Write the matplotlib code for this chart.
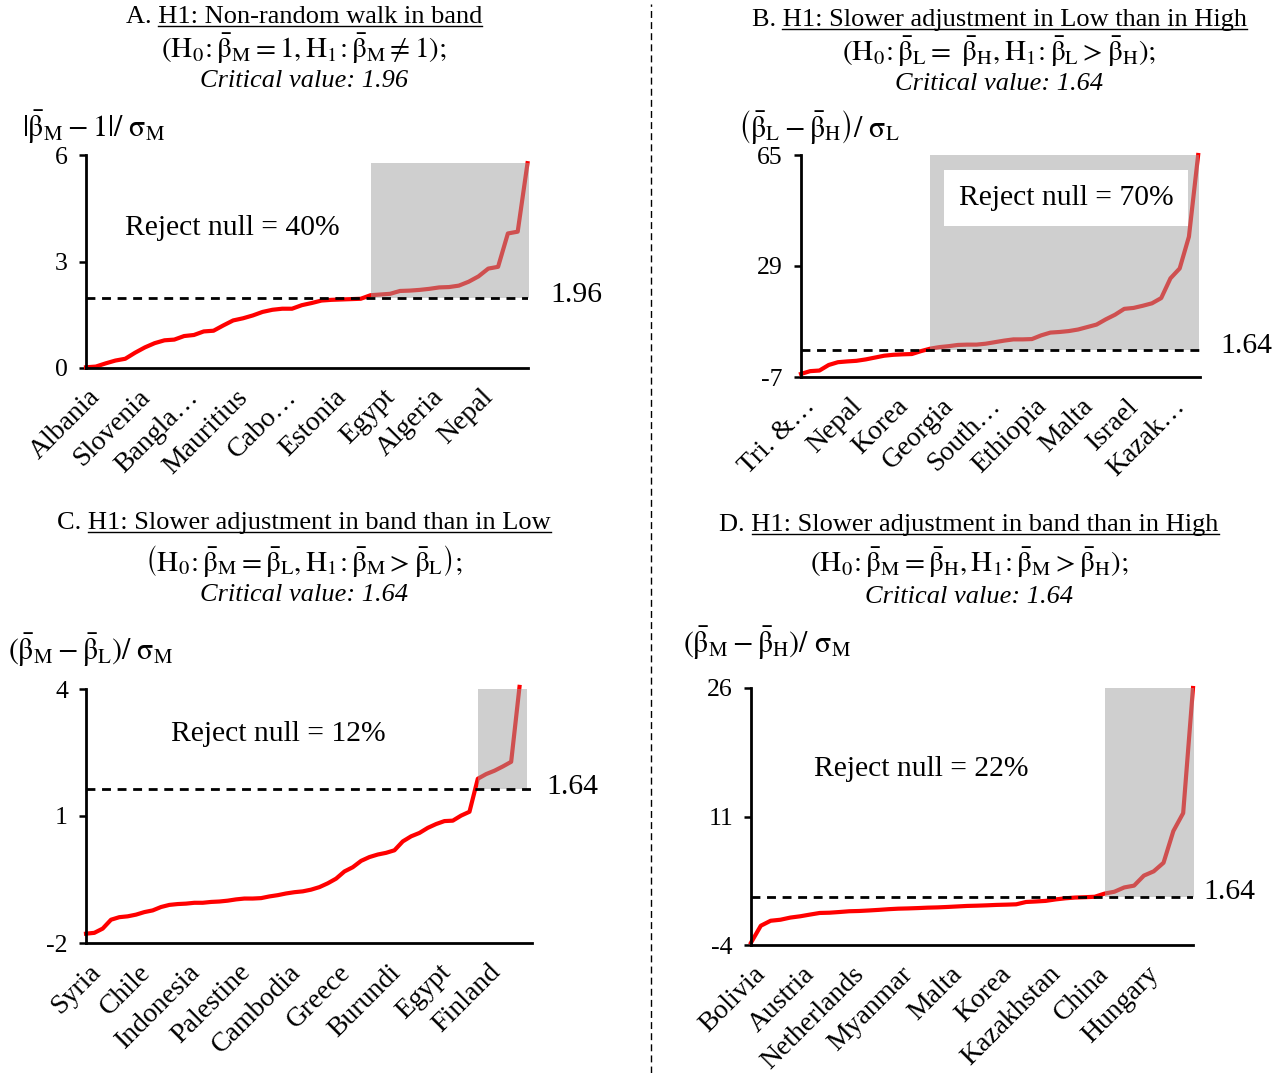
import matplotlib
matplotlib.use("Agg")
import matplotlib.pyplot as plt
from matplotlib.lines import Line2D
import matplotlib.transforms as mtransforms
from matplotlib.font_manager import FontProperties

plt.rcParams['font.family'] = ['Liberation Serif', 'DejaVu Serif']
plt.rcParams['mathtext.fontset'] = 'stix'

W, H = 1281, 1073

# ---------------- data ----------------
a_values = [0.02, 0.04, 0.13, 0.21, 0.26, 0.43, 0.58, 0.70, 0.78, 0.80,
            0.90, 0.93, 1.03, 1.05, 1.20, 1.34, 1.40, 1.48, 1.58, 1.64,
            1.67, 1.67, 1.77, 1.83, 1.90, 1.92, 1.93, 1.94, 1.95, 2.05,
            2.07, 2.09, 2.17, 2.18, 2.20, 2.23, 2.27, 2.28, 2.32, 2.43,
            2.58, 2.80, 2.85, 3.79, 3.84, 5.77]
a_labels = ["Albania", "Slovenia", "Bangla…", "Mauritius", "Cabo…",
            "Estonia", "Egypt", "Algeria", "Nepal"]
a_crit = 1.96
a_yticks = [0, 3, 6]

b_values = [-6.0, -5.1, -4.9, -3.1, -2.2, -1.95, -1.75, -1.3, -0.7, -0.1,
            0.2, 0.35, 0.45, 1.4, 2.2, 2.7, 3.0, 3.4, 3.5, 3.5,
            3.8, 4.3, 4.8, 5.2, 5.2, 5.3, 6.5, 7.4, 7.6, 7.9,
            8.4, 9.2, 10.0, 11.7, 13.2, 15.1, 15.4, 16.1, 16.9, 18.6,
            25.0, 28.2, 38.5, 65.0]
b_labels = ["Tri. &…", "Nepal", "Korea", "Georgia", "South…",
            "Ethiopia", "Malta", "Israel", "Kazak…"]
b_crit = 1.64
b_yticks = [-7, 29, 65]

c_values = [-1.78, -1.76, -1.66, -1.45, -1.39, -1.37, -1.33, -1.27, -1.23, -1.15,
            -1.10, -1.08, -1.07, -1.05, -1.05, -1.03, -1.02, -1.00, -0.97, -0.95,
            -0.95, -0.94, -0.90, -0.87, -0.83, -0.80, -0.78, -0.74, -0.68, -0.59,
            -0.48, -0.31, -0.21, -0.06, 0.03, 0.09, 0.13, 0.19, 0.40, 0.52,
            0.60, 0.72, 0.81, 0.88, 0.89, 1.01, 1.10, 1.88, 1.99, 2.07,
            2.17, 2.28, 4.05]
c_labels = ["Syria", "Chile", "Indonesia", "Palestine", "Cambodia",
            "Greece", "Burundi", "Egypt", "Finland"]
c_crit = 1.64
c_yticks = [-2, 1, 4]

d_values = [-3.73, -1.75, -1.17, -1.05, -0.80, -0.65, -0.45, -0.26, -0.23, -0.15,
            -0.06, -0.03, 0.03, 0.10, 0.18, 0.24, 0.27, 0.31, 0.36, 0.39,
            0.44, 0.50, 0.56, 0.59, 0.63, 0.68, 0.71, 0.75, 1.02, 1.08,
            1.15, 1.32, 1.45, 1.54, 1.58, 1.63, 2.00, 2.22, 2.72, 2.93,
            4.10, 4.60, 5.60, 9.30, 11.40, 26.0]
d_labels = ["Bolivia", "Austria", "Netherlands", "Myanmar", "Malta",
            "Korea", "Kazakhstan", "China", "Hungary"]
d_crit = 1.64
d_yticks = [-4, 11, 26]

reject_texts = ["Reject null = 40%", "Reject null = 70%",
                "Reject null = 12%", "Reject null = 22%"]

titles = [("A. ", "H1: Non-random walk in band"),
          ("B. ", "H1: Slower adjustment in Low than in High"),
          ("C. ", "H1: Slower adjustment in band than in Low"),
          ("D. ", "H1: Slower adjustment in band than in High")]
B = r'\bar{\mathrm{\beta}}'
hyps = [r'$(\mathrm{H_0}\!:' + B + r'_\mathrm{M}=1,\mathrm{H_1}\!:' + B + r'_\mathrm{M}\neq 1);$',
        r'$(\mathrm{H_0}\!:' + B + r'_\mathrm{L}=\ ' + B + r'_\mathrm{H},\mathrm{H_1}\!:' + B + r'_\mathrm{L}>' + B + r'_\mathrm{H});$',
        r'$\left(\mathrm{H_0}\!:' + B + r'_\mathrm{M}=' + B + r'_\mathrm{L},\mathrm{H_1}\!:' + B + r'_\mathrm{M}>' + B + r'_\mathrm{L}\right);$',
        r'$(\mathrm{H_0}\!:' + B + r'_\mathrm{M}=' + B + r'_\mathrm{H},\mathrm{H_1}\!:' + B + r'_\mathrm{M}>' + B + r'_\mathrm{H});$']
crit_texts = ["Critical value: 1.96", "Critical value: 1.64",
              "Critical value: 1.64", "Critical value: 1.64"]
ylabels = [r'$|' + B + r'_\mathrm{M}-1|/\ \mathrm{\sigma}_\mathrm{M}$',
           r'$\left(' + B + r'_\mathrm{L}-' + B + r'_\mathrm{H}\right)/\ \mathrm{\sigma}_\mathrm{L}$',
           r'$(' + B + r'_\mathrm{M}-' + B + r'_\mathrm{L})/\ \mathrm{\sigma}_\mathrm{M}$',
           r'$(' + B + r'_\mathrm{M}-' + B + r'_\mathrm{H})/\ \mathrm{\sigma}_\mathrm{M}$']

# ---------------- layout (pixels) ----------------
panels = [
    dict(vals=a_values, labels=a_labels, step=5, crit=a_crit, yt=a_yticks,
         box=(86, 528, 155, 368), xr=45.05, shade_r=45.3,
         tx=304, ty=(17, 49, 81), yl=(22, 127),
         rj=(232, 228), cl=(550, 295), rj_box=False),
    dict(vals=b_values, labels=b_labels, step=5, crit=b_crit, yt=b_yticks,
         box=(801, 1200, 155, 377), xr=43.2, shade_r=43.1,
         tx=999, ty=(20, 52, 84), yl=(738, 127),
         rj=(1066, 198), cl=(1220, 346), rj_box=True),
    dict(vals=c_values, labels=c_labels, step=6, crit=c_crit, yt=c_yticks,
         box=(86, 532, 689, 943), xr=53.5, shade_r=52.9,
         tx=304, ty=(523, 561, 595), yl=(8, 650),
         rj=(278, 734), cl=(546, 787), rj_box=False),
    dict(vals=d_values, labels=d_labels, step=5, crit=d_crit, yt=d_yticks,
         box=(751, 1193, 688, 945), xr=45.0, shade_r=45.3,
         tx=969, ty=(525, 563, 597), yl=(683, 643),
         rj=(921, 769), cl=(1203, 892), rj_box=False),
]

fig = plt.figure(figsize=(W / 100, H / 100), dpi=100)


def fx(x):
    return x / W


def fy(y):
    return 1 - y / H


title_objs = []
for k, p in enumerate(panels):
    l, r, t, b = p['box']
    ax = fig.add_axes([l / W, 1 - b / H, (r - l) / W, (b - t) / H])
    vals = p['vals']
    n = len(vals)
    xs = list(range(n))
    ymin, ymax = p['yt'][0], p['yt'][-1]
    ax.set_xlim(0, p['xr'])
    ax.set_ylim(ymin, ymax)
    ax.plot(xs, vals, color='#ff0000', lw=3.0, zorder=2, clip_on=False,
            solid_joinstyle='round')
    first = next(i for i, v in enumerate(vals) if v > p['crit'])
    ax.fill_between([first, p['shade_r']], p['crit'], max(vals),
                    color='#a0a0a0', alpha=0.5, lw=0, zorder=3)
    ax.axhline(p['crit'], color='black', lw=2.0, ls=(0, (3.2, 2.4)), zorder=4)
    for s in ['top', 'right']:
        ax.spines[s].set_visible(False)
    for s in ['left', 'bottom']:
        ax.spines[s].set_linewidth(2.0)
        ax.spines[s].set_zorder(5)
    ax.set_yticks(p['yt'])
    ax.set_yticklabels([str(v) for v in p['yt']], fontsize=18.5)
    ax.tick_params(axis='y', direction='out', length=5, width=1.8, pad=8)
    ticks = list(range(0, n, p['step']))[:len(p['labels'])]
    ax.set_xticks(ticks)
    ax.set_xticklabels(p['labels'], rotation=45, ha='right',
                       rotation_mode='anchor', fontsize=20)
    ax.tick_params(axis='x', length=0, pad=12)
    off = mtransforms.ScaledTranslation(2 / 100, 0, fig.dpi_scale_trans)
    for lab in ax.get_xticklabels():
        lab.set_transform(lab.get_transform() + off)

    # reject text
    kw = dict(ha='center', va='center', fontsize=21.3, zorder=6)
    if p['rj_box']:
        kw['bbox'] = dict(boxstyle='square,pad=0.5', fc='white', ec='none')
    fig.text(fx(p['rj'][0]), fy(p['rj'][1]), reject_texts[k], **kw)
    # critical value label
    fig.text(fx(p['cl'][0]), fy(p['cl'][1]), f"{p['crit']:.2f}", ha='left',
             va='center', fontsize=21.3)

    # titles
    prefix, body = titles[k]
    tt = fig.text(fx(p['tx']), fy(p['ty'][0]), prefix + body, ha='center',
                  va='center', fontsize=19)
    title_objs.append((tt, body))
    fig.text(fx(p['tx']), fy(p['ty'][1]), hyps[k], ha='center', va='center',
             fontsize=21)
    fig.text(fx(p['tx']), fy(p['ty'][2]), crit_texts[k], ha='center',
             va='center', fontsize=19, style='italic')
    fig.text(fx(p['yl'][0]), fy(p['yl'][1]), ylabels[k], ha='left',
             va='center', fontsize=21.5)

# vertical dashed separator
fig.add_artist(Line2D([fx(651), fx(651)], [0, fy(4)], transform=fig.transFigure,
                      color='black', lw=1.0, ls=(0, (5, 3))))

# underlines
fig.canvas.draw()
rend = fig.canvas.get_renderer()
for tt, body in title_objs:
    bb = tt.get_window_extent(rend)
    prop = FontProperties(family=['Liberation Serif'], size=19)
    wb, hb, db = rend.get_text_width_height_descent(body, prop, ismath=False)
    _, _, dlp = rend.get_text_width_height_descent("lp", prop, ismath=False)
    base = bb.y0 + max(db, dlp)
    yline = base - 2.5
    fig.add_artist(Line2D([bb.x1 - wb, bb.x1], [yline, yline],
                          transform=mtransforms.IdentityTransform(),
                          color='black', lw=1.0))

fig.savefig("out.png", dpi=100)
